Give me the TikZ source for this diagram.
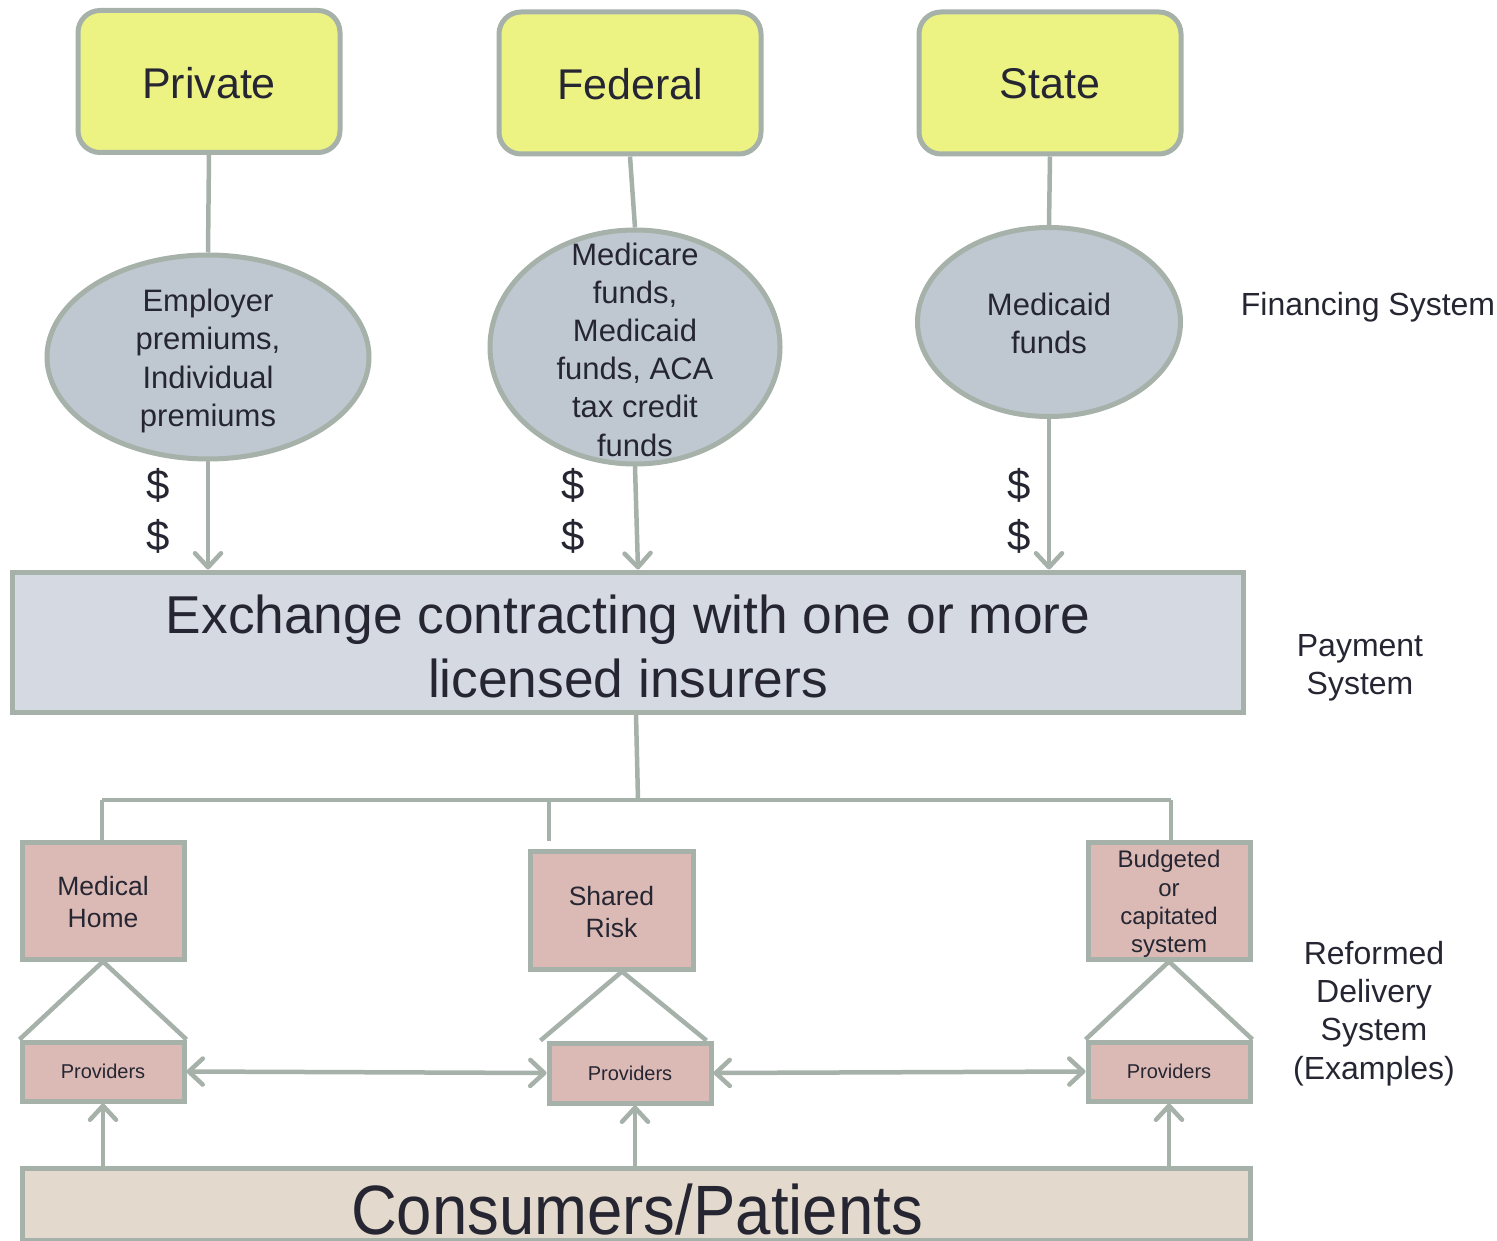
\documentclass[tikz,border=0pt]{standalone}
\usepackage{fontspec}
\usepackage{graphicx}
\setmainfont{Liberation Sans}
\usetikzlibrary{shapes.geometric,arrows.meta}
\definecolor{edge}{HTML}{A6B1AA}
\definecolor{ink}{HTML}{262633}
\definecolor{topfill}{HTML}{EDF383}
\definecolor{fundfill}{HTML}{BFC8D1}
\definecolor{exchfill}{HTML}{D5DAE2}
\definecolor{delivfill}{HTML}{DBBAB5}
\definecolor{consfill}{HTML}{E3DACD}
\begin{document}
\begin{tikzpicture}[x=1pt,y=-1pt,
  topbox/.style={draw=edge, line width=5pt, fill=topfill, rounded corners=22pt,
    minimum width=262pt, minimum height=142pt, inner sep=0pt},
  toptxt/.style={inner sep=0pt, text=ink, font=\fontsize{43}{50}\selectfont},
  fund/.style={ellipse, draw=edge, line width=5pt, fill=fundfill, inner sep=0pt},
  fundtxt/.style={align=center, inner sep=0pt, text=ink, font=\fontsize{31}{38.2}\selectfont},
  exchbox/.style={draw=edge, line width=5pt, fill=exchfill, minimum width=1231pt,
    minimum height=140pt, inner sep=0pt},
  exchtxt/.style={align=center, inner sep=0pt, text=ink, font=\fontsize{53.3}{64}\selectfont},
  deliv/.style={draw=edge, line width=5pt, fill=delivfill, minimum width=162pt,
    minimum height=117pt, inner sep=0pt},
  delivtxt/.style={align=center, inner sep=0pt, text=ink, font=\fontsize{26.5}{32}\selectfont},
  prov/.style={draw=edge, line width=5pt, fill=delivfill, minimum width=162pt,
    minimum height=59pt, inner sep=0pt, text=ink, font=\fontsize{20}{24}\selectfont},
  consbox/.style={draw=edge, line width=5pt, fill=consfill, minimum width=1228pt,
    minimum height=72pt, inner sep=0pt},
  constxt/.style={inner sep=0pt, text=ink, font=\fontsize{63.5}{70}\selectfont},
  side/.style={align=center, inner sep=0pt, text=ink, font=\fontsize{32}{38.3}\selectfont},
  dollar/.style={inner sep=0pt, text=ink, font=\fontsize{42}{48}\selectfont},
  conn/.style={draw=edge, line width=4.5pt},
  arr/.style={draw=edge, line width=4.5pt, line cap=round,
    -{Straight Barb[length=14pt,width=26pt,round]}},
  darr/.style={draw=edge, line width=4.5pt, line cap=round,
    {Straight Barb[length=14pt,width=26pt,round]}-{Straight Barb[length=14pt,width=26pt,round]}}
]
\useasboundingbox (0,0) rectangle (1497,1241);

% top sources
\node[topbox] (priv) at (209,81.5) {};
\node[toptxt] (privT) at (209,83.5) {Private};
\node[topbox] (fed) at (630,83) {};
\node[toptxt] (fedT) at (630,84) {Federal};
\node[topbox] (state) at (1050,83) {};
\node[toptxt] (stateT) at (1050,84) {State};

% funds
\node[fund, minimum width=322pt, minimum height=204pt] (e1) at (208,357) {};
\node[fundtxt] (e1t) at (208,361) {Employer\\premiums,\\Individual\\premiums};
\node[fund, minimum width=290pt, minimum height=234pt] (e2) at (635,347) {};
\node[fundtxt] (e2t) at (635,349.5) {Medicare\\funds,\\Medicaid\\funds, ACA\\tax credit\\funds};
\node[fund, minimum width=263pt, minimum height=189pt] (e3) at (1049,322) {};
\node[fundtxt] (e3t) at (1049,323.5) {Medicaid\\funds};

\draw[conn] (priv.south) -- (e1.north);
\draw[conn] (fed.south) -- (e2.north);
\draw[conn] (state.south) -- (e3.north);

% exchange
\node[exchbox] (exch) at (627.5,642) {};
\node[exchtxt] (exchT) at (628,646) {Exchange contracting with one or more\\licensed insurers};

\draw[arr] (e1.south) -- (e1.south |- exch.north);
\draw[arr] (e2.south) -- ([xshift=3pt]e2.south |- exch.north);
\draw[arr] (e3.south) -- (e3.south |- exch.north);

\node[dollar] (d1a) at (158,485) {\$};
\node[dollar] (d1b) at (158,536) {\$};
\node[dollar] (d2a) at (573,485) {\$};
\node[dollar] (d2b) at (573,536) {\$};
\node[dollar] (d3a) at (1019,485) {\$};
\node[dollar] (d3b) at (1019,536) {\$};

% delivery boxes
\node[deliv] (mh) at (103,900.5) {};
\node[delivtxt] (mhT) at (103,902.5) {Medical\\Home};
\node[deliv, minimum width=163pt, minimum height=118pt] (sr) at (611.5,910) {};
\node[delivtxt] (srT) at (611.5,912) {Shared\\Risk};
\node[deliv] (bud) at (1169,900.5) {};
\node[delivtxt, font=\fontsize{24}{28.4}\selectfont] (budT) at (1169,904) {Budgeted\\or\\capitated\\system};

\node[prov] (p1) at (103,1071.5) {Providers};
\node[prov, minimum height=60pt] (p2) at (630,1073) {Providers};
\node[prov] (p3) at (1169,1071.5) {Providers};

% bus
\coordinate (busC) at (638,800);
\coordinate (busL) at (102,800);
\coordinate (busM) at (549,800);
\coordinate (busR) at (1171,800);
\coordinate (srStub) at (549,841);
\draw[conn] ([xshift=8.5pt]exch.south) -- (busC);
\draw[conn] (busL) -- (busR);
\draw[conn] (busL) -- (busL |- mh.north);
\draw[conn] (busM) -- (srStub);
\draw[conn] (busR) -- (busR |- bud.north);

% triangles
\draw[conn] (p1.north west) -- (mh.south) -- (p1.north east);
\draw[conn] ([xshift=-6pt]p2.north west) -- ([xshift=10.5pt]sr.south) -- ([xshift=-7pt]p2.north east);
\draw[conn] (p3.north west) -- (bud.south) -- (p3.north east);

% provider links
\draw[darr] (p1.east) -- (p2.west);
\draw[darr] (p2.east) -- (p3.west);

% consumers
\node[consbox] (cons) at (636,1204) {};
\node[constxt, anchor=base] (consT) at (637,1234) {\scalebox{1}[1.1]{Consumers/Patients}};
\draw[arr] (p1.south |- cons.north) -- (p1.south);
\draw[arr] ([xshift=5pt]p2.south |- cons.north) -- ([xshift=5pt]p2.south);
\draw[arr] (p3.south |- cons.north) -- (p3.south);

% side labels
\node[side] (fin) at (1368,307) {Financing System};
\node[side] (pay) at (1360,667.5) {Payment\\System};
\node[side] (refd) at (1374,1013.5) {Reformed\\Delivery\\System\\(Examples)};
\end{tikzpicture}
\end{document}
